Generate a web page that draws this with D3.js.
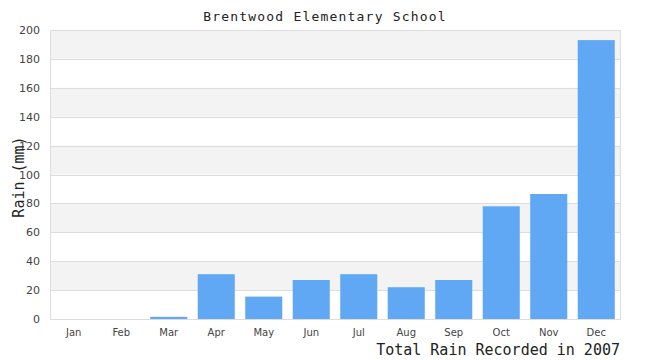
<!DOCTYPE html>
<html>
<head>
<meta charset="utf-8">
<script src="https://cdn.jsdelivr.net/npm/d3@7"></script>
<style>
  body { margin: 0; background: #fff; }
  svg { display: block; }
</style>
</head>
<body>
<svg></svg>
<script>
const months = ["Jan","Feb","Mar","Apr","May","Jun","Jul","Aug","Sep","Oct","Nov","Dec"];
const rain = [0, 0, 1.5, 31, 15.5, 27, 31, 22, 27, 78, 86.5, 193];
const yTicks = [0, 20, 40, 60, 80, 100, 120, 140, 160, 180, 200];

const width = 650;
const height = 360;
const plotLeft = 50, plotRight = 620, plotTop = 30, plotBottom = 319;

const svg = d3.select("svg")
  .attr("width", width)
  .attr("height", height);

const xScale = d3.scaleBand()
  .domain(months)
  .range([plotLeft, plotRight])
  .paddingInner(0.22)
  .paddingOuter(0.11);

const yScale = d3.scaleLinear()
  .domain([0, 200])
  .range([plotBottom, plotTop]);

// alternating bands
const bands = yTicks.slice(0, -1).filter((d, i) => i % 2 === 1);
svg.append("g")
  .selectAll("rect")
  .data(bands)
  .enter()
  .append("rect")
  .attr("x", plotLeft)
  .attr("width", plotRight - plotLeft)
  .attr("y", d => yScale(d + 20))
  .attr("height", d => yScale(d) - yScale(d + 20))
  .attr("fill", "#f3f3f3");

// grid lines
svg.append("g")
  .selectAll("line")
  .data(yTicks)
  .enter()
  .append("line")
  .attr("x1", plotLeft)
  .attr("x2", plotRight)
  .attr("y1", d => Math.round(yScale(d)) + 0.5)
  .attr("y2", d => Math.round(yScale(d)) + 0.5)
  .attr("stroke", "#dddddd");

// plot border
svg.append("rect")
  .attr("x", plotLeft + 0.5)
  .attr("y", Math.round(yScale(200)) + 0.5)
  .attr("width", plotRight - plotLeft)
  .attr("height", Math.round(yScale(0)) - Math.round(yScale(200)))
  .attr("fill", "none")
  .attr("stroke", "#dddddd");

// bars
svg.append("g")
  .selectAll("rect")
  .data(rain)
  .enter()
  .append("rect")
  .attr("x", (d, i) => xScale(months[i]))
  .attr("width", xScale.bandwidth())
  .attr("y", d => yScale(d))
  .attr("height", d => yScale(0) - yScale(d))
  .attr("fill", "#60a8f4");

// y axis
const yAxis = d3.axisLeft(yScale)
  .tickValues(yTicks)
  .tickSize(0)
  .tickPadding(10);

svg.append("g")
  .attr("transform", `translate(${plotLeft},0)`)
  .call(yAxis)
  .call(g => g.select(".domain").remove())
  .selectAll("text")
  .attr("font-family", "DejaVu Sans, sans-serif")
  .attr("font-size", 11)
  .attr("fill", "#444");

// x axis
const xAxis = d3.axisBottom(xScale)
  .tickSize(0)
  .tickPadding(10);

svg.append("g")
  .attr("transform", `translate(0,${plotBottom})`)
  .call(xAxis)
  .call(g => g.select(".domain").remove())
  .selectAll("text")
  .attr("font-family", "DejaVu Sans, sans-serif")
  .attr("font-size", 10)
  .attr("fill", "#444");

// title
svg.append("text")
  .attr("x", 325)
  .attr("y", 21)
  .attr("text-anchor", "middle")
  .attr("font-family", "DejaVu Sans Mono, monospace")
  .attr("font-size", 13)
  .attr("letter-spacing", 1.2)
  .attr("fill", "#222")
  .text("Brentwood Elementary School");

// y title
svg.append("text")
  .attr("transform", "translate(24,177) rotate(-90)")
  .attr("text-anchor", "middle")
  .attr("font-family", "DejaVu Sans Mono, monospace")
  .attr("font-size", 15)
  .attr("fill", "#222")
  .text("Rain (mm)");

// x title
svg.append("text")
  .attr("x", 620)
  .attr("y", 355)
  .attr("text-anchor", "end")
  .attr("font-family", "DejaVu Sans Mono, monospace")
  .attr("font-size", 15)
  .attr("fill", "#222")
  .text("Total Rain Recorded in 2007");
</script>
</body>
</html>
